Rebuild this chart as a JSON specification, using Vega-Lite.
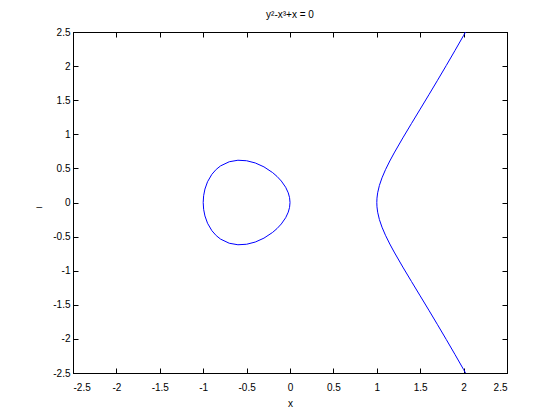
{
  "$schema": "https://vega.github.io/schema/vega-lite/v6.json",
  "autosize": {"type": "none"},
  "padding": {"left": 73, "top": 32, "right": 53, "bottom": 47},
  "width": 434,
  "height": 341,
  "background": "white",
  "title": {"text": "y²-x³+x = 0", "font": "Liberation Sans", "fontSize": 10, "fontWeight": "normal", "color": "black", "offset": 7},
  "config": {
    "view": {"stroke": "black", "strokeWidth": 1},
    "axis": {"grid": false, "domainColor": "black", "tickColor": "black", "labelColor": "black", "titleColor": "black", "labelFont": "Liberation Sans", "titleFont": "Liberation Sans", "labelFontSize": 10, "titleFontSize": 10, "titleFontWeight": "normal", "tickSize": -5, "domainWidth": 1, "tickWidth": 1}
  },
  "data": {"values": [
    {"c": "oval", "o": 0, "x": -1, "y": 0},
    {"c": "oval", "o": 1, "x": -0.995, "y": 0.09962},
    {"c": "oval", "o": 2, "x": -0.98, "y": 0.197},
    {"c": "oval", "o": 3, "x": -0.95, "y": 0.30434},
    {"c": "oval", "o": 4, "x": -0.9, "y": 0.41352},
    {"c": "oval", "o": 5, "x": -0.85, "y": 0.48567},
    {"c": "oval", "o": 6, "x": -0.8, "y": 0.53666},
    {"c": "oval", "o": 7, "x": -0.7, "y": 0.59749},
    {"c": "oval", "o": 8, "x": -0.6, "y": 0.61968},
    {"c": "oval", "o": 9, "x": -0.5, "y": 0.61237},
    {"c": "oval", "o": 10, "x": -0.4, "y": 0.57966},
    {"c": "oval", "o": 11, "x": -0.3, "y": 0.52249},
    {"c": "oval", "o": 12, "x": -0.2, "y": 0.43818},
    {"c": "oval", "o": 13, "x": -0.15, "y": 0.38292},
    {"c": "oval", "o": 14, "x": -0.1, "y": 0.31464},
    {"c": "oval", "o": 15, "x": -0.05, "y": 0.22333},
    {"c": "oval", "o": 16, "x": -0.02, "y": 0.14139},
    {"c": "oval", "o": 17, "x": -0.005, "y": 0.07071},
    {"c": "oval", "o": 18, "x": 0, "y": 0},
    {"c": "oval", "o": 19, "x": -0.005, "y": -0.07071},
    {"c": "oval", "o": 20, "x": -0.02, "y": -0.14139},
    {"c": "oval", "o": 21, "x": -0.05, "y": -0.22333},
    {"c": "oval", "o": 22, "x": -0.1, "y": -0.31464},
    {"c": "oval", "o": 23, "x": -0.15, "y": -0.38292},
    {"c": "oval", "o": 24, "x": -0.2, "y": -0.43818},
    {"c": "oval", "o": 25, "x": -0.3, "y": -0.52249},
    {"c": "oval", "o": 26, "x": -0.4, "y": -0.57966},
    {"c": "oval", "o": 27, "x": -0.5, "y": -0.61237},
    {"c": "oval", "o": 28, "x": -0.6, "y": -0.61968},
    {"c": "oval", "o": 29, "x": -0.7, "y": -0.59749},
    {"c": "oval", "o": 30, "x": -0.8, "y": -0.53666},
    {"c": "oval", "o": 31, "x": -0.85, "y": -0.48567},
    {"c": "oval", "o": 32, "x": -0.9, "y": -0.41352},
    {"c": "oval", "o": 33, "x": -0.95, "y": -0.30434},
    {"c": "oval", "o": 34, "x": -0.98, "y": -0.197},
    {"c": "oval", "o": 35, "x": -0.995, "y": -0.09962},
    {"c": "oval", "o": 36, "x": -1, "y": 0},
    {"c": "branch", "o": 0, "x": 2.0225, "y": -2.5},
    {"c": "branch", "o": 1, "x": 2.0, "y": -2.44949},
    {"c": "branch", "o": 2, "x": 1.9, "y": -2.22688},
    {"c": "branch", "o": 3, "x": 1.8, "y": -2.00798},
    {"c": "branch", "o": 4, "x": 1.7, "y": -1.79249},
    {"c": "branch", "o": 5, "x": 1.6, "y": -1.57987},
    {"c": "branch", "o": 6, "x": 1.5, "y": -1.36931},
    {"c": "branch", "o": 7, "x": 1.4, "y": -1.15931},
    {"c": "branch", "o": 8, "x": 1.3, "y": -0.9471},
    {"c": "branch", "o": 9, "x": 1.2, "y": -0.72664},
    {"c": "branch", "o": 10, "x": 1.15, "y": -0.60899},
    {"c": "branch", "o": 11, "x": 1.1, "y": -0.48062},
    {"c": "branch", "o": 12, "x": 1.06, "y": -0.36196},
    {"c": "branch", "o": 13, "x": 1.03, "y": -0.25045},
    {"c": "branch", "o": 14, "x": 1.01, "y": -0.14248},
    {"c": "branch", "o": 15, "x": 1.002, "y": -0.06334},
    {"c": "branch", "o": 16, "x": 1, "y": 0},
    {"c": "branch", "o": 17, "x": 1.002, "y": 0.06334},
    {"c": "branch", "o": 18, "x": 1.01, "y": 0.14248},
    {"c": "branch", "o": 19, "x": 1.03, "y": 0.25045},
    {"c": "branch", "o": 20, "x": 1.06, "y": 0.36196},
    {"c": "branch", "o": 21, "x": 1.1, "y": 0.48062},
    {"c": "branch", "o": 22, "x": 1.15, "y": 0.60899},
    {"c": "branch", "o": 23, "x": 1.2, "y": 0.72664},
    {"c": "branch", "o": 24, "x": 1.3, "y": 0.9471},
    {"c": "branch", "o": 25, "x": 1.4, "y": 1.15931},
    {"c": "branch", "o": 26, "x": 1.5, "y": 1.36931},
    {"c": "branch", "o": 27, "x": 1.6, "y": 1.57987},
    {"c": "branch", "o": 28, "x": 1.7, "y": 1.79249},
    {"c": "branch", "o": 29, "x": 1.8, "y": 2.00798},
    {"c": "branch", "o": 30, "x": 1.9, "y": 2.22688},
    {"c": "branch", "o": 31, "x": 2.0, "y": 2.44949},
    {"c": "branch", "o": 32, "x": 2.0225, "y": 2.5}
  ]},
  "layer": [
    {
      "mark": {"type": "line", "color": "#0000ff", "strokeWidth": 1, "clip": true},
      "encoding": {
        "x": {"field": "x", "type": "quantitative", "scale": {"domain": [-2.5, 2.5], "nice": false, "zero": false},
              "axis": {"orient": "bottom", "values": [-2.5, -2, -1.5, -1, -0.5, 0, 0.5, 1, 1.5, 2, 2.5], "labelExpr": "'' + datum.value", "title": "x", "titlePadding": 6, "labelPadding": 14}},
        "y": {"field": "y", "type": "quantitative", "scale": {"domain": [-2.5, 2.5], "nice": false, "zero": false},
              "axis": {"orient": "left", "values": [-2.5, -2, -1.5, -1, -0.5, 0, 0.5, 1, 1.5, 2, 2.5], "labelExpr": "'' + datum.value", "title": "_", "titleAngle": 0, "titleAlign": "center", "titleBaseline": "middle", "titlePadding": 14, "labelPadding": 8}},
        "detail": {"field": "c"},
        "order": {"field": "o", "type": "quantitative"}
      }
    },
    {
      "mark": {"type": "point", "opacity": 0},
      "encoding": {
        "x": {"field": "x", "type": "quantitative", "axis": {"orient": "top", "values": [-2.5, -2, -1.5, -1, -0.5, 0, 0.5, 1, 1.5, 2, 2.5], "labels": false, "title": null}},
        "y": {"field": "y", "type": "quantitative", "axis": {"orient": "right", "values": [-2.5, -2, -1.5, -1, -0.5, 0, 0.5, 1, 1.5, 2, 2.5], "labels": false, "title": null}}
      }
    }
  ],
  "resolve": {"axis": {"x": "independent", "y": "independent"}}
}
